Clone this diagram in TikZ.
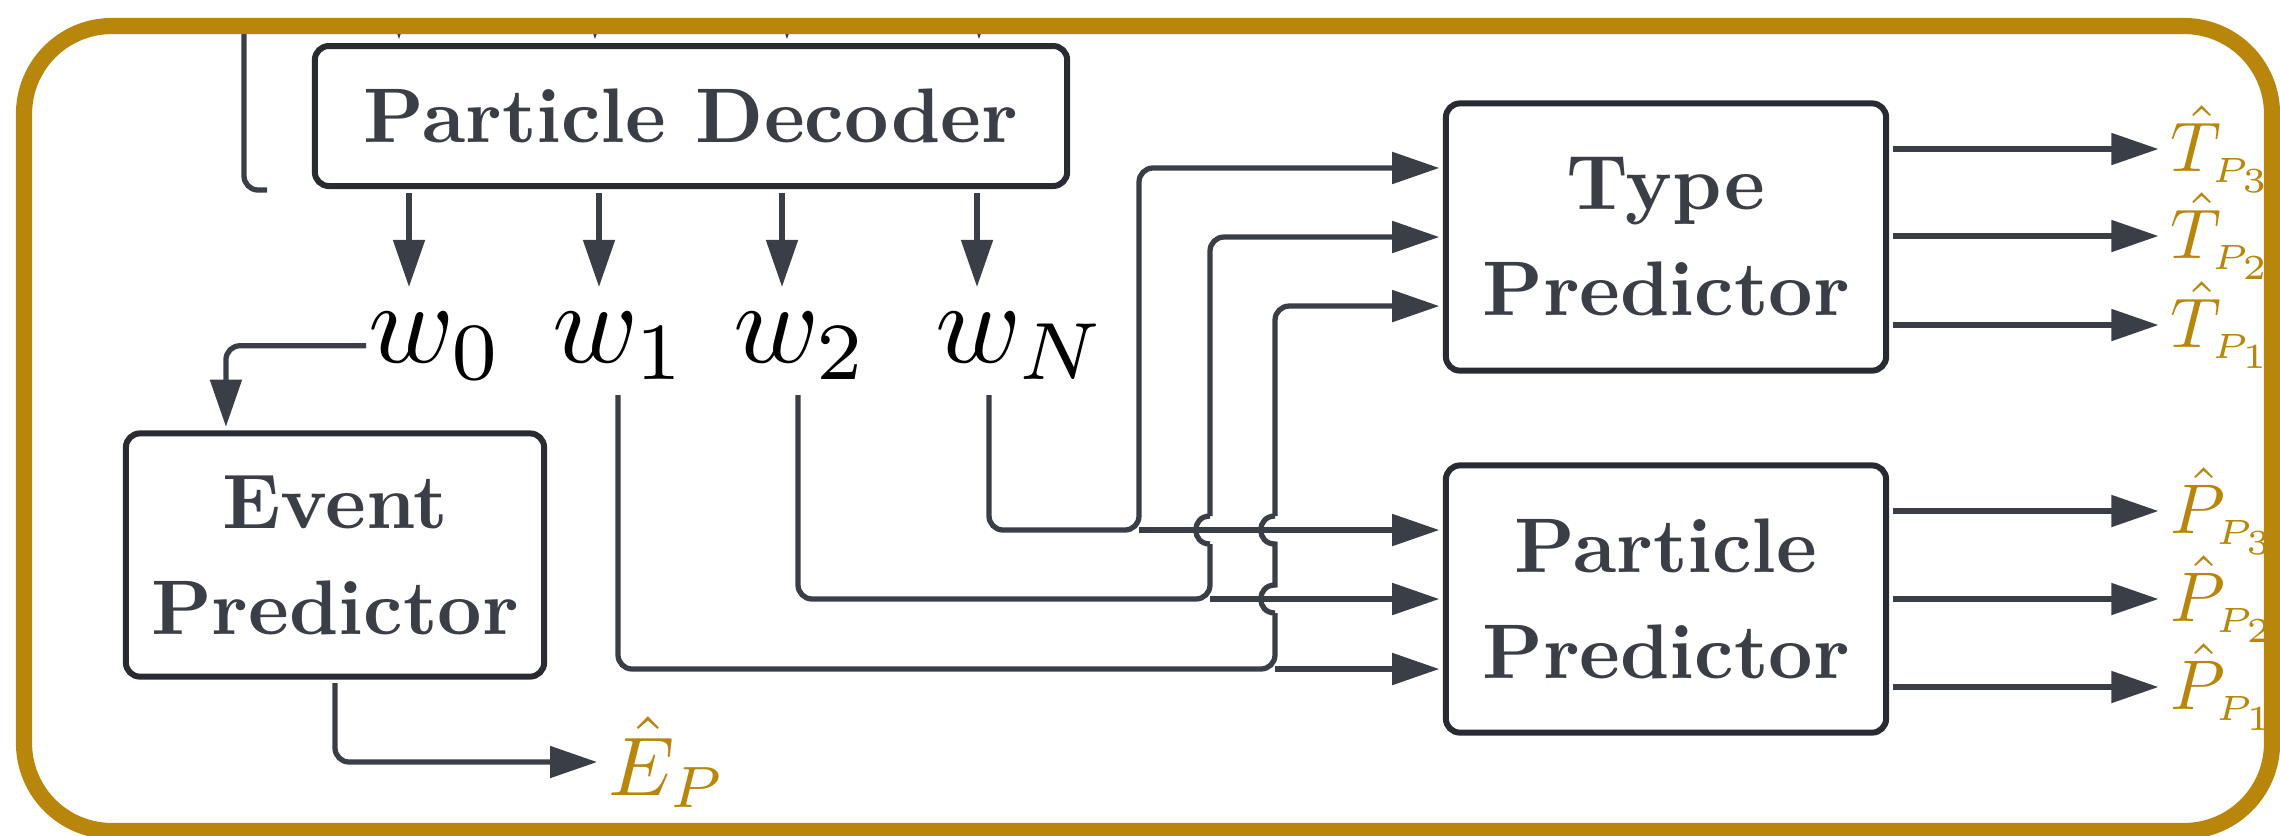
\documentclass[tikz,border=0pt]{standalone}
\usepackage{amsmath}
\usetikzlibrary{arrows.meta, positioning, calc}
\definecolor{inkgray}{RGB}{58, 63, 71}
\definecolor{boxedge}{RGB}{40, 44, 50}
\definecolor{framegold}{RGB}{184, 134, 11}

\tikzset{
  block/.style={scale=2.2, draw=boxedge, line width=1.7pt, rounded corners=4pt, fill=white, text=inkgray,
    align=center, inner sep=0pt, font=\fontsize{10}{13.7}\selectfont\bfseries},
  wire/.style={draw=inkgray, line width=1.5pt, rounded corners=4pt},
  arr/.style={wire, -{Triangle[length=13.4pt, width=8.8pt]}},
  wlabel/.style={scale=3.3, anchor=base west, inner sep=0pt},
  outlabel/.style={scale=2, anchor=west, inner sep=0pt, text=framegold},
}

\begin{document}
\begin{tikzpicture}[x=0.01cm, y=-0.01cm]
  \useasboundingbox (0,0) rectangle (2280,835);

  % Particle decoder, fed from above (cut by the frame)
  \node[block, minimum width=3.418cm, minimum height=0.636cm] (dec) at (691,116) {Particle Decoder};
  \coordinate (a0) at (399,-30);
  \coordinate (a1) at (595,-30);
  \coordinate (a2) at (787,-30);
  \coordinate (a3) at (979,-30);
  \begin{scope}
    \clip (0,20) rectangle (2280,835);
    \foreach \i in {0,...,3}
      \draw[arr] (a\i) -- (dec.north -| a\i);
    \draw[wire] (244,-30) |- (267,190);
  \end{scope}

  % Frame
  \draw[framegold, line width=4.6pt, rounded corners=25pt] (24,26) rectangle (2272,831);

  % Decoder outputs
  \coordinate (c0) at (409,287);
  \coordinate (c1) at (599,287);
  \coordinate (c2) at (782,287);
  \coordinate (c3) at (977,287);
  \foreach \i in {0,...,3}
    \draw[arr] (dec.south -| c\i) -- (c\i);

  \node[wlabel] (w0) at (366,362) {$w_0$};
  \node[wlabel] (w1) at (550,362) {$w_1$};
  \node[wlabel] (w2) at (731,362) {$w_2$};
  \node[wlabel] (wN) at (933,362) {$w_N$};

  % Event predictor
  \node[block, minimum width=1.9cm, minimum height=1.105cm] (ev) at (335,555) {Event\\Predictor};
  \node[outlabel, scale=1.185] (ep) at (607,762) {$\hat{E}_P$};
  \draw[arr] (w0.west) -| ([xshift=-1.09cm]ev.north);
  \draw[arr, shorten >=2.8pt] (ev.south) |- (ep.west);

  % Type and particle predictors
  \node[block, minimum width=2cm, minimum height=1.214cm] (tp) at (1666,237) {Type\\Predictor};
  \node[block, minimum width=2cm, minimum height=1.214cm] (pp) at (1666,599) {Particle\\Predictor};

  \coordinate (sN) at (989,395);
  \coordinate (s2) at (798,395);
  \coordinate (s1) at (618,395);
  \coordinate (jN) at (1139,530);
  \coordinate (j2) at (1210,599);
  \coordinate (j1) at (1275,669);

  % w_N
  \draw[arr] (sN) |- (jN) |- ([yshift=0.69cm]tp.west);
  \draw[arr] (jN) -- (pp.west |- jN);
  % w_2
  \draw[wire] (s2) |- (j2) -- (1210,544);
  \draw[wire, sharp corners] (1210,544) .. controls (1191,544) and (1191,516) .. (1210,516);
  \draw[arr] (1210,516) |- (tp.west);
  \draw[arr] (j2) -- (pp.west |- j2);
  % w_1
  \draw[wire] (s1) |- (j1) -- (1275,613);
  \draw[wire, sharp corners] (1275,613) .. controls (1256,613) and (1256,585) .. (1275,585)
    -- (1275,544) .. controls (1256,544) and (1256,516) .. (1275,516);
  \draw[arr] (1275,516) |- ([yshift=-0.69cm]tp.west);
  \draw[arr] (j1) -- (pp.west |- j1);

  % Outputs
  \node[outlabel] (t3) at (2169,149) {$\hat{T}_{\scriptscriptstyle P_3}$};
  \node[outlabel] (t2) at (2169,236) {$\hat{T}_{\scriptscriptstyle P_2}$};
  \node[outlabel] (t1) at (2169,325) {$\hat{T}_{\scriptscriptstyle P_1}$};
  \node[outlabel] (p3) at (2169,511) {$\hat{P}_{\scriptscriptstyle P_3}$};
  \node[outlabel] (p2) at (2169,599) {$\hat{P}_{\scriptscriptstyle P_2}$};
  \node[outlabel] (p1) at (2169,687) {$\hat{P}_{\scriptscriptstyle P_1}$};
  \foreach \o in {t3,t2,t1}
    \draw[arr, shorten >=3pt] (tp.east |- \o.west) -- (\o.west);
  \foreach \o in {p3,p2,p1}
    \draw[arr, shorten >=3pt] (pp.east |- \o.west) -- (\o.west);
\end{tikzpicture}
\end{document}
